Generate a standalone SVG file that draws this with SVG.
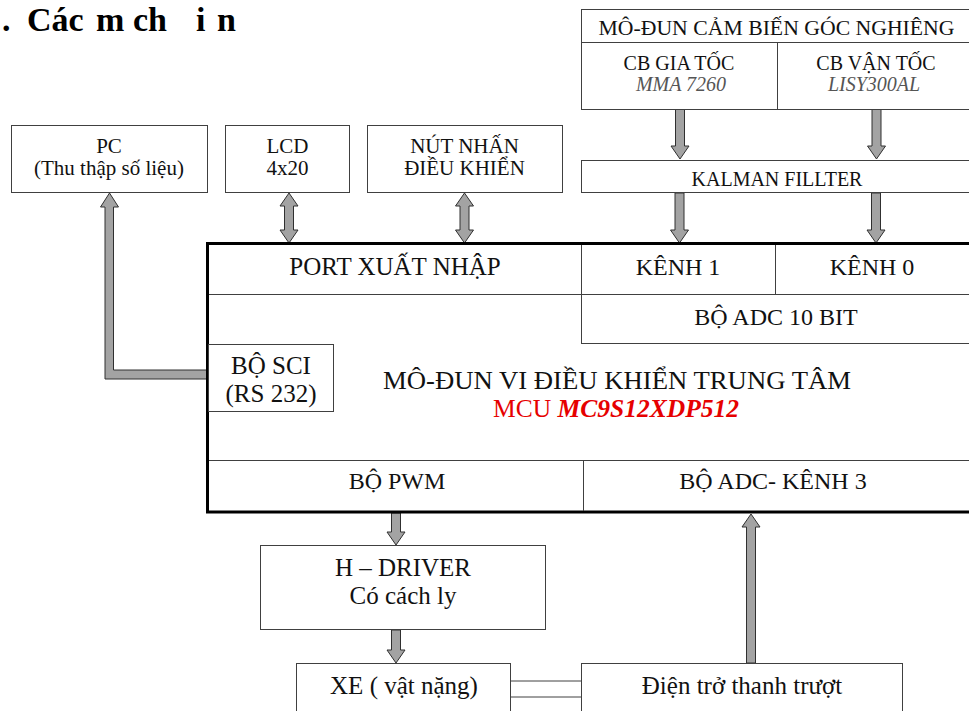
<svg xmlns="http://www.w3.org/2000/svg" width="969" height="711" viewBox="0 0 969 711">
<style>
.box{fill:#fff;stroke:#404040;stroke-width:1}
.ln{stroke:#404040;stroke-width:1;fill:none}
.mcu{fill:#fff;stroke:#000;stroke-width:3}
.arr{fill:#a3a3a3;stroke:#303030;stroke-width:1;stroke-linejoin:miter}
.t{font-family:"Liberation Serif","Times New Roman",serif;fill:#111;text-anchor:middle}
.s20{font-size:20px}
.s21{font-size:21px}
.s24{font-size:24px}
.s25{font-size:25px}
.it{font-style:italic;fill:#555}
.red{fill:#e60000}
.ttl{font-family:"Liberation Serif","Times New Roman",serif;font-size:34px;font-weight:bold;fill:#000}
</style>
<rect width="969" height="711" fill="#fff"/>
<text class="ttl" x="2" y="31"><tspan x="2">.</tspan><tspan x="27">Các</tspan><tspan x="96">m</tspan><tspan x="133">ch</tspan><tspan x="196">i</tspan><tspan x="217">n</tspan></text>

<g id="connectors">
<polygon class="arr" points="675.5,109 684.5,109 684.5,146 689,146 680,159 671,146 675.5,146"/>
<polygon class="arr" points="872,109 881,109 881,146 885.5,146 876.5,159 867.5,146 872,146"/>
<polygon class="arr" points="675,193 684,193 684,230 688.5,230 679.5,243 670.5,230 675,230"/>
<polygon class="arr" points="871.5,193 880.5,193 880.5,230 885,230 876,243 867,230 871.5,230"/>
<polygon class="arr" points="289,193 298,206 293.5,206 293.5,230 298,230 289,243 280,230 284.5,230 284.5,206 280,206"/>
<polygon class="arr" points="464.5,193 473.5,206 469,206 469,230 473.5,230 464.5,243 455.5,230 460,230 460,206 455.5,206"/>
<polygon class="arr" points="207,370 113.5,370 113.5,207 118.5,207 109.5,193 100.5,207 105,207 105,379 207,379"/>
<polygon class="arr" points="391.5,513 400.5,513 400.5,532 405,532 396,545 387,532 391.5,532"/>
<polygon class="arr" points="391.5,630 400.5,630 400.5,650 405,650 396,663 387,650 391.5,650"/>
<polygon class="arr" points="746.5,663 755.5,663 755.5,527 760,527 751,514 742,527 746.5,527"/>
<line class="ln" x1="511" y1="681" x2="581" y2="681"/>
<line class="ln" x1="511" y1="697" x2="581" y2="697"/>
</g>

<g id="sensor-module">
<rect class="box" x="581.5" y="9.5" width="400" height="100"/>
<line class="ln" x1="581" y1="42.5" x2="969" y2="42.5"/>
<line class="ln" x1="777.5" y1="42" x2="777.5" y2="109"/>
<text class="t s21" x="776.5" y="35" textLength="356" lengthAdjust="spacingAndGlyphs">MÔ-ĐUN CẢM BIẾN GÓC NGHIÊNG</text>
<text class="t s20" x="679" y="70">CB GIA TỐC</text>
<text class="t s20 it" x="681" y="91">MMA 7260</text>
<text class="t s20" x="876" y="70">CB VẬN TỐC</text>
<text class="t s20 it" x="874" y="91">LISY300AL</text>
</g>

<g id="kalman">
<rect class="box" x="581.5" y="160.5" width="400" height="32"/>
<text class="t s20" x="777" y="186">KALMAN FILLTER</text>
</g>

<g id="pc">
<rect class="box" x="11.5" y="125.5" width="196" height="67"/>
<text class="t s21" x="109" y="153">PC</text>
<text class="t s21" x="109" y="175">(Thu thập số liệu)</text>
</g>

<g id="lcd">
<rect class="box" x="225.5" y="125.5" width="124" height="67"/>
<text class="t s21" x="287.5" y="153">LCD</text>
<text class="t s21" x="287.5" y="175">4x20</text>
</g>

<g id="buttons">
<rect class="box" x="367.5" y="125.5" width="195" height="67"/>
<text class="t s21" x="464.5" y="153">NÚT NHẤN</text>
<text class="t s21" x="464.5" y="175">ĐIỀU KHIỂN</text>
</g>

<g id="mcu">
<rect class="mcu" x="207.5" y="243.5" width="790" height="268.5"/>
<line class="ln" x1="209" y1="294.5" x2="969" y2="294.5"/>
<line class="ln" x1="581.5" y1="245" x2="581.5" y2="343"/>
<line class="ln" x1="775.5" y1="245" x2="775.5" y2="294"/>
<line class="ln" x1="581" y1="343.5" x2="969" y2="343.5"/>
<rect class="box" x="208.5" y="344.5" width="125" height="67"/>
<line class="ln" x1="209" y1="460.5" x2="969" y2="460.5"/>
<line class="ln" x1="583.5" y1="460" x2="583.5" y2="511"/>
<text class="t s25" x="395" y="275">PORT XUẤT NHẬP</text>
<text class="t s24" x="678" y="275">KÊNH 1</text>
<text class="t s24" x="872" y="275">KÊNH 0</text>
<text class="t s24" x="776" y="325">BỘ ADC 10 BIT</text>
<text class="t s25" x="271" y="374">BỘ SCI</text>
<text class="t s25" x="271" y="402">(RS 232)</text>
<text class="t s25" x="617" y="389" textLength="468" lengthAdjust="spacingAndGlyphs">MÔ-ĐUN VI ĐIỀU KHIỂN TRUNG TÂM</text>
<text class="t s25 red" x="616" y="417" textLength="246" lengthAdjust="spacingAndGlyphs">MCU <tspan style="font-style:italic;font-weight:bold">MC9S12XDP512</tspan></text>
<text class="t s24" x="397" y="489">BỘ PWM</text>
<text class="t s24" x="773" y="489">BỘ ADC- KÊNH 3</text>
</g>

<g id="h-driver">
<rect class="box" x="260.5" y="545.5" width="285" height="84"/>
<text class="t s25" x="403" y="576">H – DRIVER</text>
<text class="t s25" x="403" y="604">Có cách ly</text>
</g>

<g id="xe">
<rect class="box" x="296.5" y="663.5" width="214" height="60"/>
<text class="t s25" x="404" y="694">XE ( vật nặng)</text>
</g>

<g id="dien-tro">
<rect class="box" x="581.5" y="663.5" width="321" height="60"/>
<text class="t s25" x="742" y="694">Điện trở thanh trượt</text>
</g>
</svg>
